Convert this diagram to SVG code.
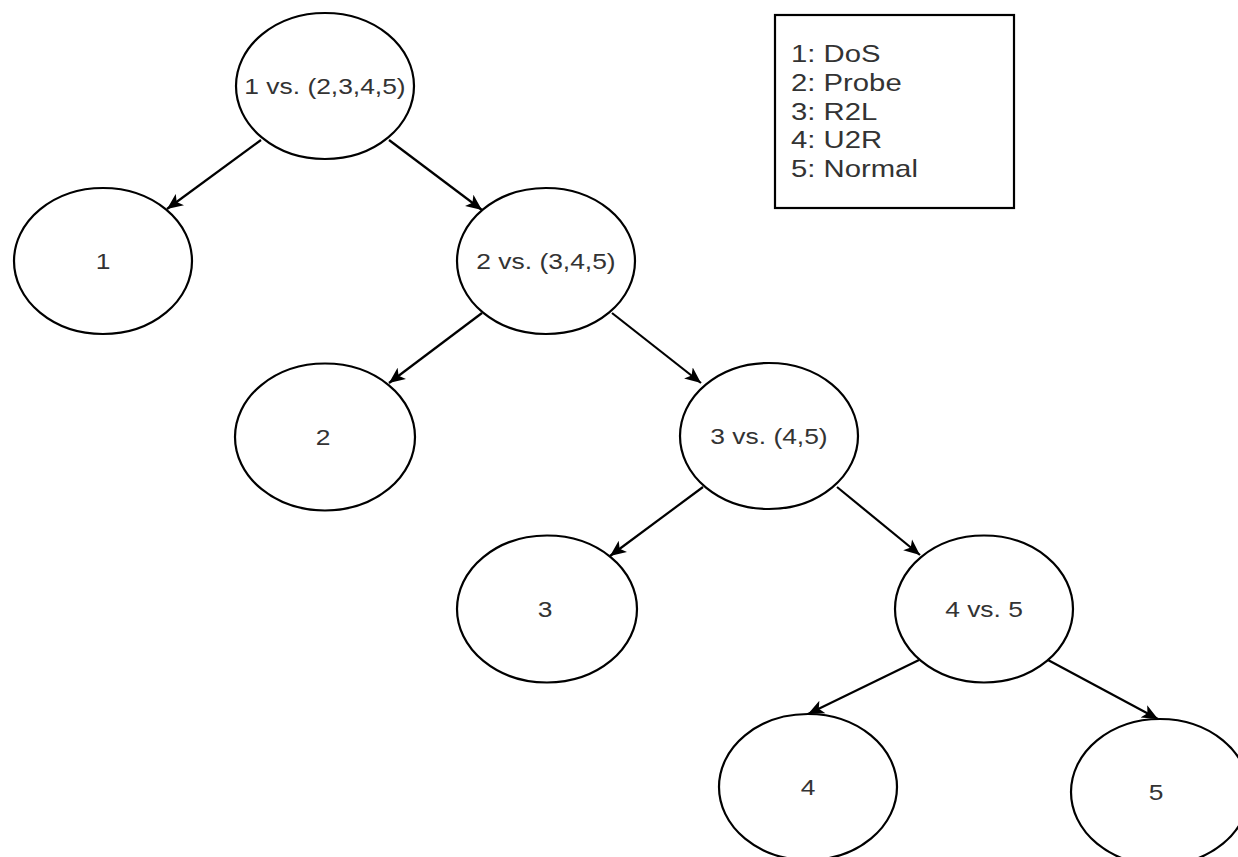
<svg xmlns="http://www.w3.org/2000/svg" width="1238" height="857" viewBox="0 0 1238 857">
<style>
.node{fill:#fff;stroke:#000;stroke-width:2.2}
.lbl{font-family:"Liberation Sans",Arial,sans-serif;font-size:22px;fill:#333;text-anchor:middle}
.leg{font-family:"Liberation Sans",Arial,sans-serif;font-size:24px;fill:#333}
.edge{stroke:#000;stroke-width:2.2;fill:none;marker-end:url(#arr)}
</style>
<defs>
<marker id="arr" markerUnits="userSpaceOnUse" markerWidth="18" markerHeight="16" viewBox="0 0 18 16" refX="16" refY="8" orient="auto">
<path d="M0,1 L16,8 L0,15 L4,8 z" fill="#000"/>
</marker>
</defs>
<rect width="1238" height="857" fill="#fff"/>
<g id="connectors">
<line class="edge" x1="261" y1="140" x2="167" y2="209"/>
<line class="edge" x1="389" y1="140" x2="482" y2="210"/>
<line class="edge" x1="482" y1="313" x2="389" y2="383"/>
<line class="edge" x1="612" y1="313" x2="701" y2="383"/>
<line class="edge" x1="703" y1="487" x2="610" y2="556"/>
<line class="edge" x1="837" y1="487" x2="920" y2="555"/>
<line class="edge" x1="919" y1="660" x2="808" y2="714"/>
<line class="edge" x1="1048" y1="660" x2="1158" y2="719"/>
</g>
<g id="n1vs2345"><ellipse class="node" cx="325" cy="86" rx="89" ry="73"/><text class="lbl" transform="translate(325,94) scale(1.2,1)">1 vs. (2,3,4,5)</text></g>
<g id="n1"><ellipse class="node" cx="103" cy="261" rx="89" ry="73"/><text class="lbl" transform="translate(103,269) scale(1.2,1)">1</text></g>
<g id="n2vs345"><ellipse class="node" cx="546" cy="261" rx="89" ry="73"/><text class="lbl" transform="translate(546,269) scale(1.2,1)">2 vs. (3,4,5)</text></g>
<g id="n2"><ellipse class="node" cx="325" cy="437" rx="90" ry="73.5"/><text class="lbl" transform="translate(323,445) scale(1.2,1)">2</text></g>
<g id="n3vs45"><ellipse class="node" cx="769" cy="436" rx="89" ry="73"/><text class="lbl" transform="translate(769,444) scale(1.2,1)">3 vs. (4,5)</text></g>
<g id="n3"><ellipse class="node" cx="547" cy="609" rx="90" ry="73.5"/><text class="lbl" transform="translate(545,617) scale(1.2,1)">3</text></g>
<g id="n4vs5"><ellipse class="node" cx="984" cy="609" rx="89" ry="73.5"/><text class="lbl" transform="translate(984,617) scale(1.2,1)">4 vs. 5</text></g>
<g id="n4"><ellipse class="node" cx="808" cy="787" rx="89" ry="73"/><text class="lbl" transform="translate(808,795) scale(1.2,1)">4</text></g>
<g id="n5"><ellipse class="node" cx="1160" cy="792" rx="89" ry="73"/><text class="lbl" transform="translate(1156,800) scale(1.2,1)">5</text></g>
<g id="legend">
<rect x="775" y="15" width="239" height="193" fill="#fff" stroke="#000" stroke-width="2.2"/>
<g transform="translate(791,0) scale(1.22,1)">
<text class="leg" x="0" y="62">1: DoS</text>
<text class="leg" x="0" y="91">2: Probe</text>
<text class="leg" x="0" y="120">3: R2L</text>
<text class="leg" x="0" y="148">4: U2R</text>
<text class="leg" x="0" y="177">5: Normal</text>
</g>
</g>
</svg>
